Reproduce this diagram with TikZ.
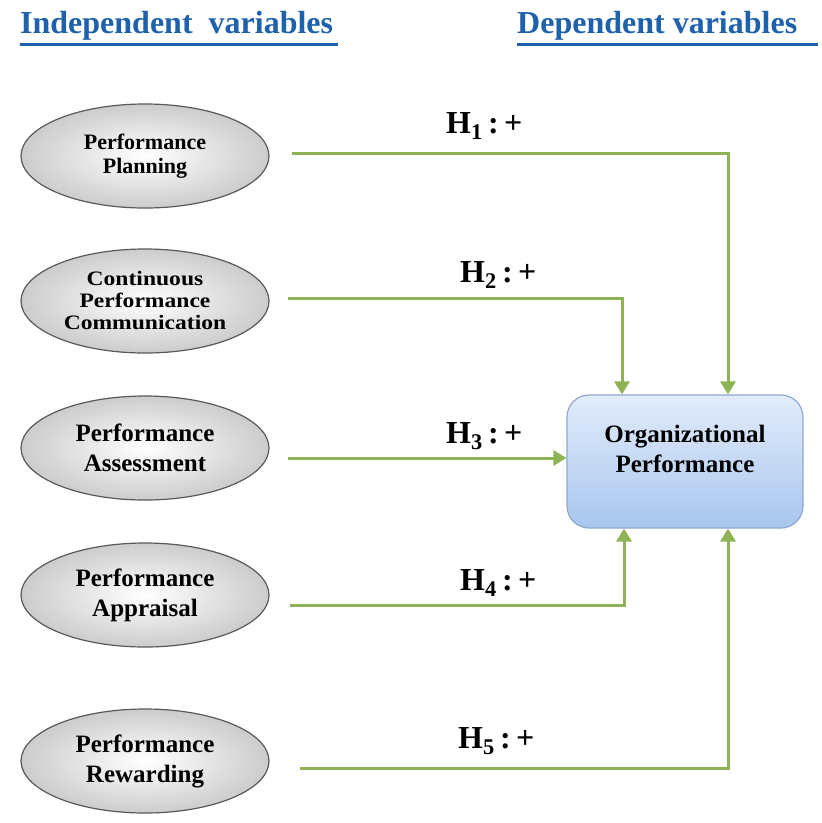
\documentclass[tikz,border=0pt]{standalone}
\usepackage{fontspec}
\setmainfont{Liberation Serif}
\newfontfamily\widefont[FakeStretch=1.15]{Liberation Serif}
\usetikzlibrary{shapes.geometric,arrows.meta}
\definecolor{arrowgreen}{HTML}{8DB355}
\definecolor{titleblue}{HTML}{1E62AE}
\definecolor{boxtop}{HTML}{E2ECFB}
\definecolor{boxbot}{HTML}{A8C6EE}
\definecolor{boxedge}{HTML}{8EA9CE}
\tikzset{
  ivar/.style={ellipse, draw=black!65, line width=1.2pt, minimum width=248pt, minimum height=104pt,
    inner sep=0pt, align=center, font=\bfseries\fontsize{25}{30}\selectfont,
    shade, outer color=black!20, inner color=white},
  dvar/.style={rectangle, rounded corners=22pt, draw=boxedge, line width=1.2pt, minimum width=236pt,
    minimum height=133pt, align=center, font=\bfseries\fontsize{25}{30}\selectfont,
    top color=boxtop, bottom color=boxbot, text depth=26pt},
  link/.style={draw=arrowgreen, line width=3pt, -{Triangle[length=13pt,width=15pt]}},
  hyp/.style={font=\bfseries\fontsize{32}{33}\selectfont, anchor=base west, inner sep=0pt},
  title/.style={font=\bfseries\fontsize{32}{33}\selectfont, text=titleblue, anchor=base west, inner sep=0pt}
}
\newcommand{\hyplabel}[1]{H\textsubscript{#1}\,:\,+}
\begin{document}
\begin{tikzpicture}[x=1pt,y=-1pt]
\fill[white] (0,0) rectangle (822,823);
\useasboundingbox (0,0) rectangle (822,823);
\node[title] (t1) at (20,33) {Independent\ \ variables};
\draw[titleblue, line width=3pt] (20,44.5) -- (338,44.5);
\node[title] (t2) at (517,33) {Dependent variables};
\draw[titleblue, line width=3pt] (517,44.5) -- (818,44.5);

\node[ivar, font=\bfseries\fontsize{22}{24}\selectfont] (a) at (145,156) {Performance\\Planning};
\node[ivar, font=\widefont\bfseries\fontsize{20.5}{22}\selectfont] (b) at (145,301) {Continuous\\Performance\\Communication};
\node[ivar] (c) at (145,448) {Performance\\Assessment};
\node[ivar] (d) at (145,595) {Performance\\Appraisal};
\node[ivar] (e) at (145,761) {Performance\\Rewarding};

\node[dvar] (o) at (685,461.5) {Organizational\\Performance};

\coordinate (a0) at (292,153);
\coordinate (b0) at (288,298);
\coordinate (c0) at (288,458);
\coordinate (d0) at (290,605);
\coordinate (e0) at (300,768);

\draw[link] (a0) -| (o.north -| 728,0);
\draw[link] (b0) -| (o.north -| 622,0);
\draw[link] (c0) -- (c0 -| o.west);
\draw[link] (d0) -| (o.south -| 624,0);
\draw[link] (e0) -| (o.south -| 728,0);

\node[hyp] (h1) at (446,133) {\hyplabel{1}};
\node[hyp] (h2) at (460,282) {\hyplabel{2}};
\node[hyp] (h3) at (446,443) {\hyplabel{3}};
\node[hyp] (h4) at (460,590) {\hyplabel{4}};
\node[hyp] (h5) at (458,748) {\hyplabel{5}};
\end{tikzpicture}
\end{document}
